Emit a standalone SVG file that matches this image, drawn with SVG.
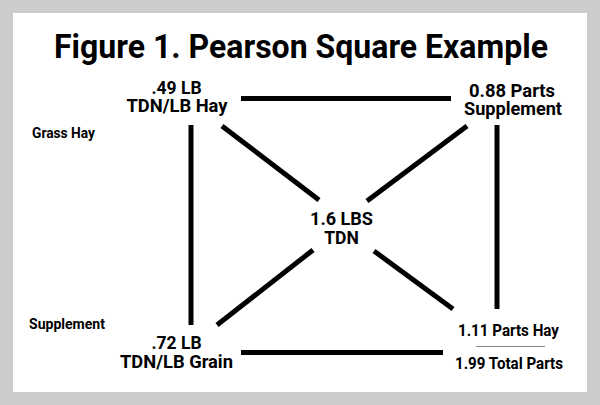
<svg xmlns="http://www.w3.org/2000/svg" width="600" height="405" viewBox="0 0 600 405">
<style>
.t{font-family:Roboto,"Liberation Sans",sans-serif;fill:#000;text-anchor:middle}
.lab{font-size:17.5px;font-weight:bold}
.cnd{font-size:16.5px;font-weight:bold}
.side{font-size:15px;font-weight:bold}
.ln{stroke:#000;stroke-width:5;fill:none}
</style>
<rect x="0" y="0" width="600" height="405" fill="#cccccc"/>
<rect x="13" y="13" width="574" height="379" fill="#ffffff"/>
<text class="t" x="301" y="58" font-size="34" font-weight="bold" textLength="494" lengthAdjust="spacingAndGlyphs">Figure 1. Pearson Square Example</text>
<g id="connectors">
<line class="ln" x1="241" y1="98.5" x2="451" y2="98.5"/>
<line class="ln" x1="241" y1="352.5" x2="443" y2="352.5"/>
<line class="ln" x1="191" y1="125" x2="191" y2="325"/>
<line class="ln" x1="497" y1="125" x2="497" y2="309"/>
<line class="ln" x1="222" y1="126" x2="319" y2="200"/>
<line class="ln" x1="467" y1="126" x2="367" y2="201"/>
<line class="ln" x1="313" y1="250" x2="217" y2="325"/>
<line class="ln" x1="374" y1="251" x2="453" y2="309"/>
</g>
<g id="node-hay">
<text class="t lab" x="176.5" y="94">.49 LB</text>
<text class="t lab" x="177" y="112" textLength="101" lengthAdjust="spacingAndGlyphs">TDN/LB Hay</text>
</g>
<g id="node-supplement-parts">
<text class="t lab" x="512" y="97" textLength="86" lengthAdjust="spacingAndGlyphs">0.88 Parts</text>
<text class="t lab" x="513" y="115" textLength="98" lengthAdjust="spacingAndGlyphs">Supplement</text>
</g>
<g id="node-center">
<text class="t lab" x="341.5" y="225" textLength="63" lengthAdjust="spacingAndGlyphs">1.6 LBS</text>
<text class="t lab" x="341.5" y="244">TDN</text>
</g>
<g id="node-grain">
<text class="t lab" x="176.5" y="349">.72 LB</text>
<text class="t lab" x="176.5" y="368" textLength="113" lengthAdjust="spacingAndGlyphs">TDN/LB Grain</text>
</g>
<g id="node-hay-parts">
<text class="t cnd" x="508.5" y="336" textLength="101" lengthAdjust="spacingAndGlyphs">1.11 Parts Hay</text>
<line x1="476" y1="346.5" x2="545" y2="346.5" stroke="#888" stroke-width="1"/>
<text class="t cnd" x="509" y="369" textLength="108" lengthAdjust="spacingAndGlyphs">1.99 Total Parts</text>
</g>
<g id="label-grass-hay">
<text class="t side" x="63.5" y="138" textLength="63" lengthAdjust="spacingAndGlyphs">Grass Hay</text>
</g>
<g id="label-supplement">
<text class="t side" x="67" y="329" textLength="76" lengthAdjust="spacingAndGlyphs">Supplement</text>
</g>
</svg>
